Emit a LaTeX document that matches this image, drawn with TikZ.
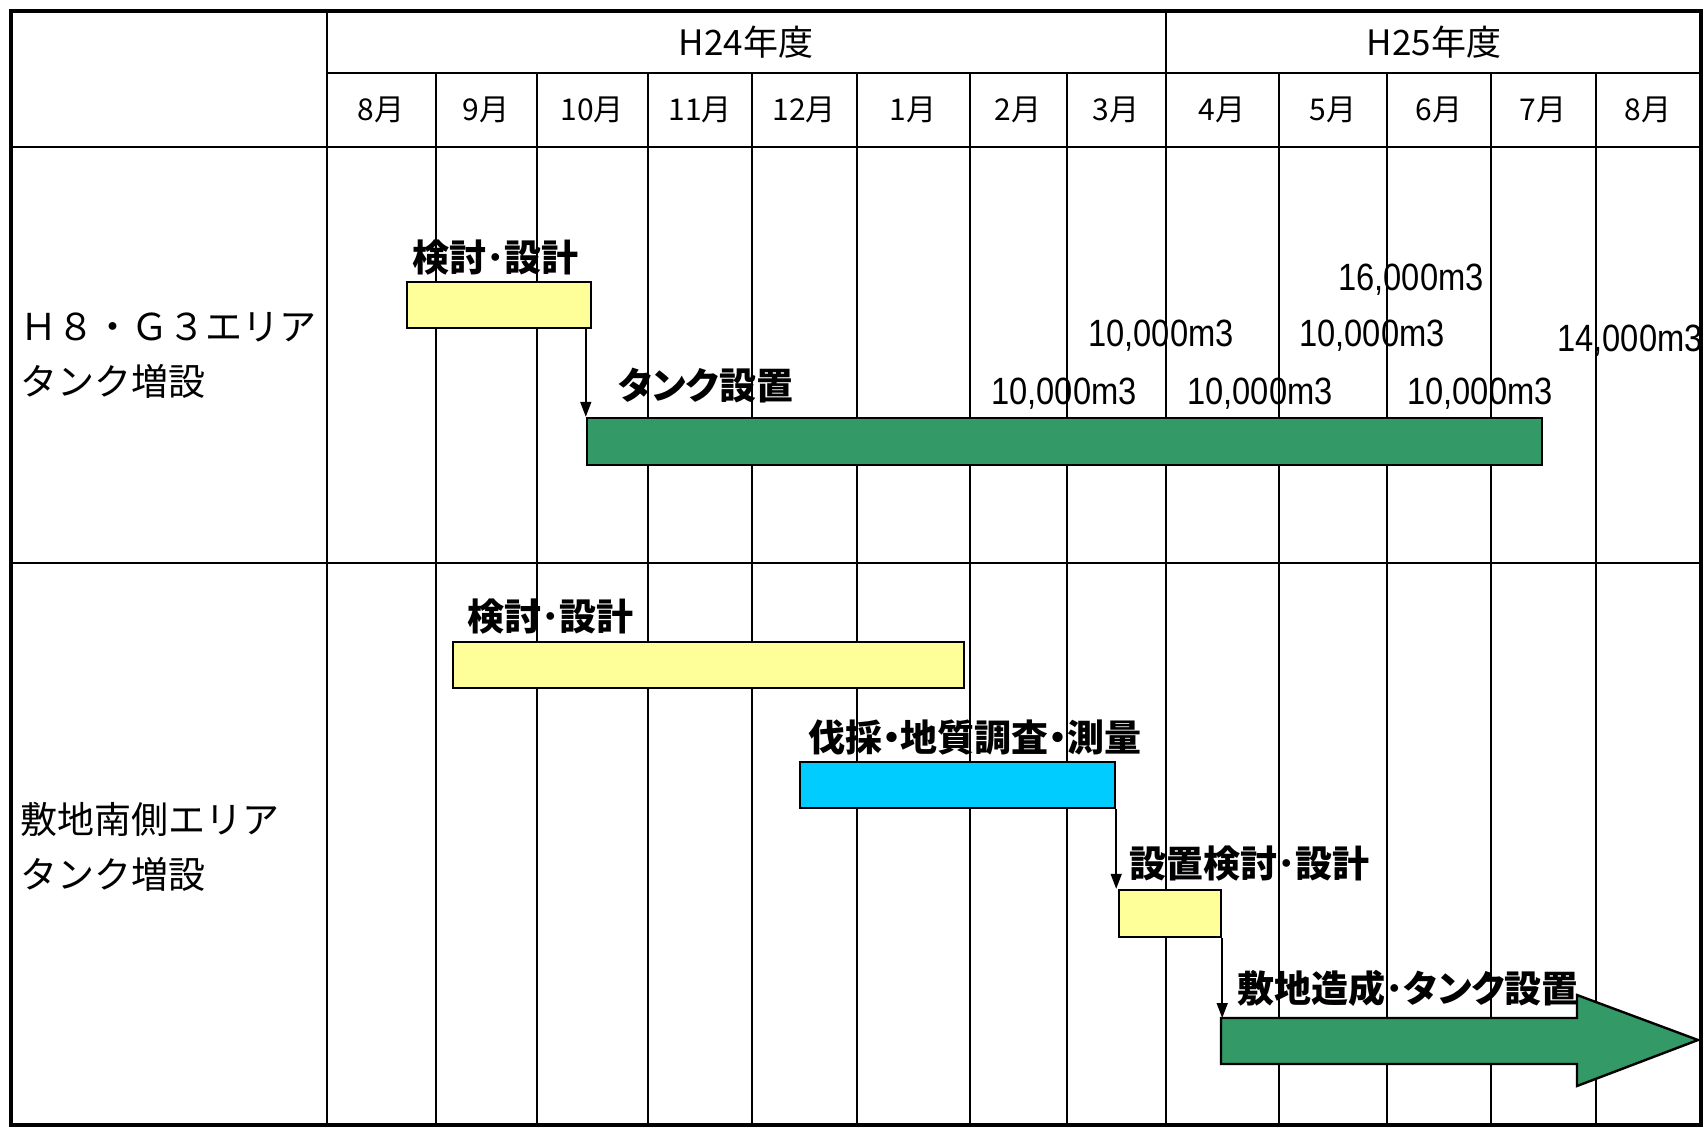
\documentclass[tikz,border=0pt]{standalone}
\usepackage{fontspec}
\setmainfont{Liberation Sans}
\newfontfamily\jpfont{Noto Sans CJK JP}
\newfontfamily\taskfont[RawFeature=+palt]{Noto Sans CJK JP}
\newfontfamily\volfont[FakeStretch=0.86]{Liberation Sans}
\usetikzlibrary{arrows.meta}
\usetikzlibrary{fit}
\definecolor{planyellow}{HTML}{FFFF99}
\definecolor{worksgreen}{HTML}{339966}
\definecolor{surveycyan}{HTML}{00CCFF}

\begin{document}
\begin{tikzpicture}[x=0.5pt, y=-0.5pt,
    grid/.style={line width=1.2pt},
    bar/.style={draw, line width=1.2pt, inner sep=0pt},
    flow/.style={line width=0.8pt, -{Triangle[length=7.5pt, width=5.5pt]}},
    task/.style={font=\taskfont\bfseries\fontsize{18.5pt}{20pt}\selectfont, inner sep=0pt, anchor=west},
    month/.style={font=\jpfont\fontsize{15pt}{17pt}\selectfont, inner sep=0pt},
    year/.style={font=\jpfont\fontsize{17.5pt}{19pt}\selectfont, inner sep=0pt},
    vol/.style={font=\volfont\fontsize{19pt}{21pt}\selectfont, inner sep=0pt, anchor=base},
    area/.style={font=\jpfont\fontsize{18.5pt}{27.5pt}\selectfont, inner sep=0pt, anchor=west, align=left}]
        \useasboundingbox (0,0) rectangle (1708,1128);
        % table
        \foreach \x in {436, 537, 648, 752, 857, 970, 1067, 1279, 1387, 1491, 1596} {
            \draw [grid] (\x, 73) to (\x, 1125);
        }
        \foreach \x in {327, 1166} {
            \draw [grid] (\x, 11) to (\x, 1125);
        }
        \draw [grid] (327, 73) to (1701, 73);
        \foreach \y in {147, 563} {
            \draw [grid] (11, \y) to (1701, \y);
        }
        \draw [line width=2pt] (11, 11) rectangle (1701, 1125);
        \node [year] (fy24) at (746, 42) {H24年度};
        \node [year] (fy25) at (1434, 42) {H25年度};
        \foreach \x/\mo [count=\i] in {381/8, 486/9, 592/10, 700/11, 804/12, 913/1, 1018/2, 1116/3, 1222/4, 1333/5, 1439/6, 1543/7, 1648/8} {
            \node [month] (mon\i) at (\x, 110) {\mo 月};
        }
        \node [area] (areaH8) at (20, 355) {Ｈ８・Ｇ３エリア\\タンク増設};
        \node [area] (areaSouth) at (20, 847) {敷地南側エリア\\タンク増設};
        % H8/G3 bars
        \node [bar, fill=planyellow, fit={(407,282) (591,328)}] (design1) {};
        \node [bar, fill=worksgreen, fit={(587,418) (1542,465)}] (tank1) {};
        \draw [flow] (design1.south east -| tank1.north west) -- (tank1.north west);
        \node [task] (design1lbl) at (412, 258) {検討･設計};
        \node [task] (tank1lbl) at (618, 386) {タンク設置};
        \node [vol] (v16k) at (1411, 291) {16,000m3};
        \node [vol] (v10a) at (1161, 347) {10,000m3};
        \node [vol] (v10b) at (1372, 347) {10,000m3};
        \node [vol] (v14k) at (1630, 352) {14,000m3};
        \node [vol] (v10c) at (1064, 405) {10,000m3};
        \node [vol] (v10d) at (1260, 405) {10,000m3};
        \node [vol] (v10e) at (1480, 405) {10,000m3};
        % south bars
        \node [bar, fill=planyellow, fit={(453,642) (964,688)}] (design2) {};
        \node [bar, fill=surveycyan, fit={(800,762) (1115,808)}] (survey) {};
        \node [bar, fill=planyellow, fit={(1119,890) (1221,937)}] (layout) {};
        \coordinate (build) at (1221, 1018);
        \draw [line width=1.2pt, fill=worksgreen] (build) -- (1577,1018) -- (1577,995) -- (1698,1040)
            -- (1577,1086) -- (1577,1064) -- (1221,1064) -- cycle;
        \draw [flow] (survey.south east) -- (survey.south east |- layout.north);
        \draw [flow] (layout.south east) -- (layout.south east |- build);
        \node [task] (design2lbl) at (467, 617) {検討･設計};
        \node [task] (surveylbl) at (808, 737) {伐採・地質調査・測量};
        \node [task] (layoutlbl) at (1129, 864) {設置検討･設計};
        \node [task] (buildlbl) at (1237, 988) {敷地造成･タンク設置};
\end{tikzpicture}
\end{document}
